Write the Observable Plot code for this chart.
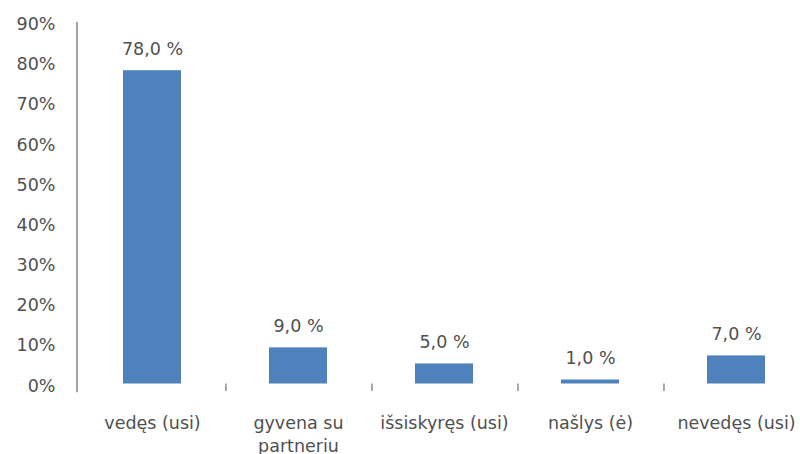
<!DOCTYPE html>
<html>
<head>
<meta charset="utf-8">
<script src="https://cdn.jsdelivr.net/npm/d3@7"></script>
<script src="https://cdn.jsdelivr.net/npm/@observablehq/plot@0.6"></script>
<style>
  html, body { margin: 0; padding: 0; background: #fff; }
  svg { display: block; }
</style>
</head>
<body>
<div id="chart"></div>
<script>
const categories = ["vedęs (usi)", "gyvena su\npartneriu", "išsiskyręs (usi)", "našlys (ė)", "nevedęs (usi)"];
const values = [78.0, 9.0, 5.0, 1.0, 7.0];
const yTicks = [0, 10, 20, 30, 40, 50, 60, 70, 80, 90];

const data = categories.map((c, i) => ({category: c, value: values[i]}));

const left = 76.5, right = 811;
const step = (right - left) / 5;
const font = "'DejaVu Sans', Verdana, sans-serif";
const textColor = "#505050";

const chart = Plot.plot({
  width: 800,
  height: 454,
  marginTop: 22,
  marginLeft: left,
  marginRight: 0,
  marginBottom: 454 - 383.5,
  style: {fontFamily: font, color: textColor, background: "#fff"},
  x: {domain: categories, range: [left, right], paddingInner: 0.6, paddingOuter: 0.3, align: 0.5},
  y: {domain: [0, 90]},
  marks: [
    Plot.frame({anchor: "left", stroke: "#8c8c8c", strokeWidth: 1.6, strokeOpacity: 1, insetBottom: -7.5}),
    Plot.axisY({ticks: yTicks, tickSize: 0, tickPadding: 21.5, dy: 2, tickFormat: d => d + "%", fontSize: 17.5, fill: textColor, label: null}),
    Plot.axisX({ticks: categories.slice(0, 4), tickSize: 7.5, dx: step / 2, text: null, stroke: "#8c8c8c", strokeWidth: 1.5, label: null}),
    Plot.axisX({tickSize: 0, tickPadding: 28, fontSize: 17.5, lineHeight: 1.35, fill: textColor, label: null}),
    Plot.barY(data, {x: "category", y: "value", fill: "#4F81BD"}),
    Plot.text(data, {x: "category", y: "value", text: d => d.value.toFixed(1).replace(".", ",") + " %", dy: -16, lineAnchor: "bottom", fontSize: 17.5, fill: textColor})
  ]
});
document.getElementById("chart").appendChild(chart);
</script>
</body>
</html>
